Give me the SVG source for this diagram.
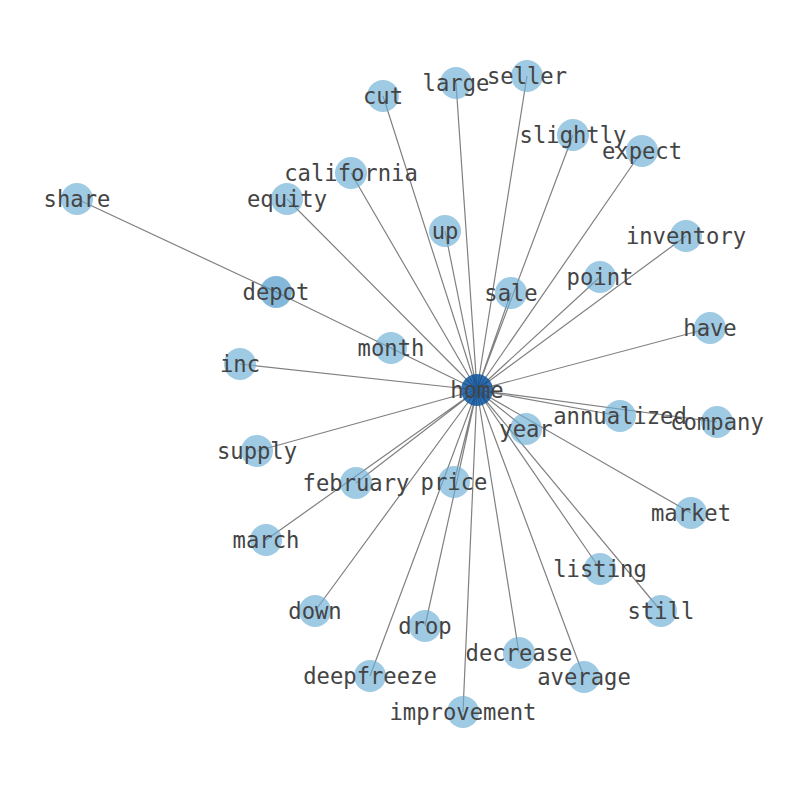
<svg xmlns="http://www.w3.org/2000/svg" width="794" height="790" viewBox="0 0 794 790">
<style>
.e{stroke:#808080;stroke-width:1.2;fill:none}
.n circle{fill:#6baed6;fill-opacity:0.65;stroke:none}
.n text{font-family:"DejaVu Sans Mono",monospace;font-size:22.2px;fill:#444;text-anchor:middle;dominant-baseline:central}
#n-depot circle{fill:#4292c6}
#n-home circle{fill:#08519c;fill-opacity:0.82}
</style>
<rect width="794" height="790" fill="#fff"/>
<g id="edges">
<path class="e" d="M77,199L276,292"/>
<path class="e" d="M477,390L383,96M477,390L456,83M477,390L527,76M477,390L573,135M477,390L642,151M477,390L351,173M477,390L287,199M477,390L445,231M477,390L686,236M477,390L600,277M477,390L511,293M477,390L276,292M477,390L710,328M477,390L391,348M477,390L240,364M477,390L620,416M477,390L717,422M477,390L526,429M477,390L257,451M477,390L356,483M477,390L454,482M477,390L691,513M477,390L266,540M477,390L600,569M477,390L661,611M477,390L315,611M477,390L425,626M477,390L519,653M477,390L370,676M477,390L584,677M477,390L463,712"/>
</g>
<g id="n-cut" class="n"><circle cx="383" cy="96" r="16"/><text x="383" y="96">cut</text></g>
<g id="n-large" class="n"><circle cx="456" cy="83" r="16"/><text x="456" y="83">large</text></g>
<g id="n-seller" class="n"><circle cx="527" cy="76" r="16"/><text x="527" y="76">seller</text></g>
<g id="n-slightly" class="n"><circle cx="573" cy="135" r="16"/><text x="573" y="135">slightly</text></g>
<g id="n-expect" class="n"><circle cx="642" cy="151" r="16"/><text x="642" y="151">expect</text></g>
<g id="n-california" class="n"><circle cx="351" cy="173" r="16"/><text x="351" y="173">california</text></g>
<g id="n-equity" class="n"><circle cx="287" cy="199" r="16"/><text x="287" y="199">equity</text></g>
<g id="n-share" class="n"><circle cx="77" cy="199" r="16"/><text x="77" y="199">share</text></g>
<g id="n-up" class="n"><circle cx="445" cy="231" r="16"/><text x="445" y="231">up</text></g>
<g id="n-inventory" class="n"><circle cx="686" cy="236" r="16"/><text x="686" y="236">inventory</text></g>
<g id="n-point" class="n"><circle cx="600" cy="277" r="16"/><text x="600" y="277">point</text></g>
<g id="n-sale" class="n"><circle cx="511" cy="293" r="16"/><text x="511" y="293">sale</text></g>
<g id="n-depot" class="n"><circle cx="276" cy="292" r="16"/><text x="276" y="292">depot</text></g>
<g id="n-have" class="n"><circle cx="710" cy="328" r="16"/><text x="710" y="328">have</text></g>
<g id="n-month" class="n"><circle cx="391" cy="348" r="16"/><text x="391" y="348">month</text></g>
<g id="n-inc" class="n"><circle cx="240" cy="364" r="16"/><text x="240" y="364">inc</text></g>
<g id="n-annualized" class="n"><circle cx="620" cy="416" r="16"/><text x="620" y="416">annualized</text></g>
<g id="n-company" class="n"><circle cx="717" cy="422" r="16"/><text x="717" y="422">company</text></g>
<g id="n-year" class="n"><circle cx="526" cy="429" r="16"/><text x="526" y="429">year</text></g>
<g id="n-supply" class="n"><circle cx="257" cy="451" r="16"/><text x="257" y="451">supply</text></g>
<g id="n-february" class="n"><circle cx="356" cy="483" r="16"/><text x="356" y="483">february</text></g>
<g id="n-price" class="n"><circle cx="454" cy="482" r="16"/><text x="454" y="482">price</text></g>
<g id="n-market" class="n"><circle cx="691" cy="513" r="16"/><text x="691" y="513">market</text></g>
<g id="n-march" class="n"><circle cx="266" cy="540" r="16"/><text x="266" y="540">march</text></g>
<g id="n-listing" class="n"><circle cx="600" cy="569" r="16"/><text x="600" y="569">listing</text></g>
<g id="n-still" class="n"><circle cx="661" cy="611" r="16"/><text x="661" y="611">still</text></g>
<g id="n-down" class="n"><circle cx="315" cy="611" r="16"/><text x="315" y="611">down</text></g>
<g id="n-drop" class="n"><circle cx="425" cy="626" r="16"/><text x="425" y="626">drop</text></g>
<g id="n-decrease" class="n"><circle cx="519" cy="653" r="16"/><text x="519" y="653">decrease</text></g>
<g id="n-deepfreeze" class="n"><circle cx="370" cy="676" r="16"/><text x="370" y="676">deepfreeze</text></g>
<g id="n-average" class="n"><circle cx="584" cy="677" r="16"/><text x="584" y="677">average</text></g>
<g id="n-improvement" class="n"><circle cx="463" cy="712" r="16"/><text x="463" y="712">improvement</text></g>
<g id="n-home" class="n"><circle cx="477" cy="390" r="16"/><text x="477" y="390">home</text></g>
</svg>
